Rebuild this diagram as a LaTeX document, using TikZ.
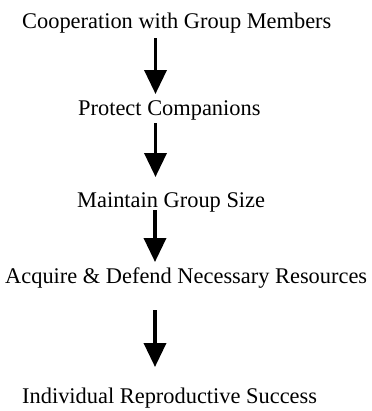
\documentclass[tikz,border=0pt]{standalone}
\usepackage{fontspec}
\setmainfont{Liberation Serif}
\usetikzlibrary{arrows.meta}
\begin{document}
\begin{tikzpicture}[x=1bp,y=-1bp,
  lbl/.style={anchor=base west,inner sep=0pt,font=\fontsize{22.4bp}{26bp}\selectfont},
  flow/.style={line width=3.6bp,-{Triangle[length=24bp,width=22bp]}}]
\useasboundingbox (0,0) rectangle (372,411);
\node[lbl] (t1) at (22,28) {Cooperation with Group Members};
\node[lbl] (t2) at (78,115) {Protect Companions};
\node[lbl] (t3) at (77,207) {Maintain Group Size};
\node[lbl] (t4) at (5,283) {Acquire \& Defend Necessary Resources};
\node[lbl] (t5) at (22,403) {Individual Reproductive Success};
\coordinate (a1s) at (155.5,38);  \coordinate (a1e) at (155.5,94);
\coordinate (a2s) at (155.5,123); \coordinate (a2e) at (155.5,177);
\coordinate (a3s) at (155,210);   \coordinate (a3e) at (155,262);
\coordinate (a4s) at (155,310);   \coordinate (a4e) at (155,367);
\draw[flow] (a1s) -- (a1e);
\draw[flow] (a2s) -- (a2e);
\draw[flow] (a3s) -- (a3e);
\draw[flow] (a4s) -- (a4e);
\end{tikzpicture}
\end{document}
